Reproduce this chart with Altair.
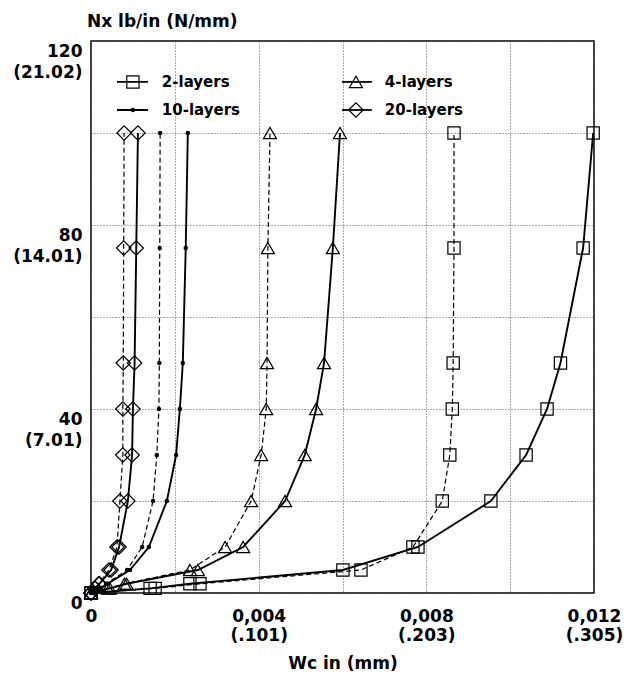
import altair as alt
import pandas as pd

# ---------------- data ----------------
loads = [0, 1, 2, 5, 10, 20, 30, 40, 50, 75, 100]

w2_solid = [0, 0.00141, 0.00236, 0.00601, 0.00780, 0.00954, 0.01038, 0.01088, 0.01120, 0.01174, 0.01198]
w2_dashed = [0, 0.00153, 0.00260, 0.00644, 0.00768, 0.00838, 0.00856, 0.00862, 0.00864, 0.00866, 0.00866]
w4_solid = [0, 0.00045, 0.00085, 0.00255, 0.00363, 0.00463, 0.00510, 0.00537, 0.00556, 0.00577, 0.00594]
w4_dashed = [0, 0.00040, 0.00080, 0.00236, 0.00320, 0.00382, 0.00406, 0.00418, 0.00420, 0.00422, 0.00427]
w10_solid = [0, 0.00020, 0.00040, 0.00093, 0.00138, 0.00181, 0.00203, 0.00212, 0.00219, 0.00226, 0.00231]
w10_dashed = [0, 0.00018, 0.00036, 0.00086, 0.00122, 0.00148, 0.00157, 0.00162, 0.00163, 0.00164, 0.00165]
w20_solid = [0, 0.00010, 0.00020, 0.00048, 0.00067, 0.00088, 0.00098, 0.00100, 0.00104, 0.00108, 0.00112]
w20_dashed = [0, 0.00009, 0.00018, 0.00043, 0.00062, 0.00069, 0.00076, 0.00076, 0.00077, 0.00078, 0.00079]

layer_names = ["2-layers", "4-layers", "10-layers", "20-layers"]
layer_shapes = ["square", "triangle-up", "circle", "diamond"]

x_grid = [0, 0.002, 0.004, 0.006, 0.008, 0.010, 0.012]
x_tick_vals = [0, 0.004, 0.008, 0.012]
x_lbl1 = ["0", "0,004", "0,008", "0,012"]
x_lbl2 = ["", "(.101)", "(.203)", "(.305)"]

y_grid = [0, 20, 40, 60, 80, 100, 120]
y_tick_vals = [0, 40, 80, 120]
y_lbl1 = ["0", "40", "80", "120"]
y_lbl2 = ["", "(7.01)", "(14.01)", "(21.02)"]

title_text = "Nx lb/in (N/mm)"
x_title = "Wc in (mm)"

# ---------------- build tables ----------------
series = [
    ("2-layers", "solid", w2_solid), ("2-layers", "dashed", w2_dashed),
    ("4-layers", "solid", w4_solid), ("4-layers", "dashed", w4_dashed),
    ("10-layers", "solid", w10_solid), ("10-layers", "dashed", w10_dashed),
    ("20-layers", "solid", w20_solid), ("20-layers", "dashed", w20_dashed),
]
rows = []
for name, kind, ws in series:
    for ld, w in zip(loads, ws):
        rows.append({"layers": name, "kind": kind, "w": w, "load": ld, "sid": name + kind})
df = pd.DataFrame(rows)

# legend layout (in data units)
leg_cols = {"2-layers": 0, "10-layers": 0, "4-layers": 1, "20-layers": 1}
leg_rows = {"2-layers": 0, "4-layers": 0, "10-layers": 1, "20-layers": 1}
col_x0 = [0.00062, 0.00599]
col_x1 = [0.00136, 0.00670]
col_xm = [0.00100, 0.00632]
col_xt = [0.00169, 0.00701]
row_y = [111.1, 105.0]
leg = pd.DataFrame([
    {"layers": n, "x0": col_x0[leg_cols[n]], "x1": col_x1[leg_cols[n]],
     "xm": col_xm[leg_cols[n]], "xt": col_xt[leg_cols[n]], "y": row_y[leg_rows[n]]}
    for n in layer_names
])

FONT = "DejaVu Sans"

def label_expr(vals, l1, l2):
    expr = "['','']"
    for v, a, b in reversed(list(zip(vals, l1, l2))):
        expr = f"abs(datum.value - {v}) < 1e-7 ? ['{a}','{b}'] : " + expr
    return expr

xs = alt.Scale(domain=[0, 0.012], nice=False, zero=False)
ys = alt.Scale(domain=[0, 120], nice=False, zero=False)

x_axis = alt.Axis(
    values=x_grid, labelExpr=label_expr(x_tick_vals, x_lbl1, x_lbl2),
    grid=True, gridDash=[1, 2], gridColor="#555", gridWidth=1,
    domain=False, ticks=False, labelFont=FONT, labelFontWeight="bold",
    labelFontSize=17, labelColor="black", labelPadding=15, labelLineHeight=19,
    labelAlign="center", labelBaseline="top", labelFlush=False, labelOverlap=False,
    title=x_title, titleFont=FONT, titleFontWeight="bold", titleFontSize=17,
    titleColor="black", titlePadding=12,
)
y_axis = alt.Axis(
    values=y_grid, labelExpr=label_expr(y_tick_vals, y_lbl1, y_lbl2),
    grid=True, gridDash=[1, 2], gridColor="#555", gridWidth=1,
    domain=False, ticks=False, labelFont=FONT, labelFontWeight="bold",
    labelFontSize=17, labelColor="black", labelPadding=9, labelLineHeight=21,
    labelAlign="right", labelBaseline="middle", labelOffset=10,
    labelFlush=False, labelOverlap=False, title=None,
)

base = alt.Chart(df)
X = alt.X("w:Q", scale=xs, axis=x_axis)
Y = alt.Y("load:Q", scale=ys, axis=y_axis)

solid = base.transform_filter(alt.datum.kind == "solid").mark_line(
    color="black", strokeWidth=1.9).encode(x=X, y=Y, detail="sid:N", order="load:Q")
dashed = base.transform_filter(alt.datum.kind == "dashed").mark_line(
    color="black", strokeWidth=1.2, strokeDash=[5, 3]).encode(
    x=alt.X("w:Q", scale=xs), y=alt.Y("load:Q", scale=ys), detail="sid:N", order="load:Q")

shape_enc = alt.Shape("layers:N", scale=alt.Scale(domain=layer_names, range=layer_shapes), legend=None)
size_enc = alt.Size("layers:N", scale=alt.Scale(domain=layer_names, range=[150, 210, 20, 140]), legend=None)

open_pts = base.transform_filter(alt.datum.layers != "10-layers").mark_point(
    filled=False, color="black", strokeWidth=1.2, opacity=1).encode(
    x=alt.X("w:Q", scale=xs), y=alt.Y("load:Q", scale=ys), shape=shape_enc, size=size_enc)
dots = base.transform_filter(alt.datum.layers == "10-layers").mark_point(
    filled=True, color="black", shape="circle", size=20, opacity=1).encode(
    x=alt.X("w:Q", scale=xs), y=alt.Y("load:Q", scale=ys))

lbase = alt.Chart(leg)
leg_lines = lbase.mark_rule(color="black", strokeWidth=1.8).encode(
    x=alt.X("x0:Q", scale=xs), x2="x1:Q", y=alt.Y("y:Q", scale=ys))
leg_open = lbase.transform_filter(alt.datum.layers != "10-layers").mark_point(
    filled=False, color="black", strokeWidth=1.2, opacity=1).encode(
    x=alt.X("xm:Q", scale=xs), y=alt.Y("y:Q", scale=ys), shape=shape_enc, size=size_enc)
leg_dot = lbase.transform_filter(alt.datum.layers == "10-layers").mark_point(
    filled=True, color="black", shape="circle", size=20, opacity=1).encode(
    x=alt.X("xm:Q", scale=xs), y=alt.Y("y:Q", scale=ys))
leg_text = lbase.mark_text(align="left", baseline="middle", font=FONT, fontWeight="bold",
                           fontSize=15, color="black").encode(
    x=alt.X("xt:Q", scale=xs), y=alt.Y("y:Q", scale=ys), text="layers:N")

chart = alt.layer(
    solid, dashed, open_pts, dots, leg_lines, leg_open, leg_dot, leg_text
).properties(
    width=503, height=552,
    autosize=alt.AutoSizeParams(type="none"),
    padding={"left": 91, "top": 41, "right": 30, "bottom": 82},
    title=alt.TitleParams(title_text, anchor="start", frame="group", font=FONT,
                          fontWeight="bold", fontSize=17, color="black", offset=10, dx=-4),
    background="white",
).configure_view(stroke="black", strokeWidth=1.5)

chart.save("out.html", embed_options={"renderer": "svg", "actions": False})
